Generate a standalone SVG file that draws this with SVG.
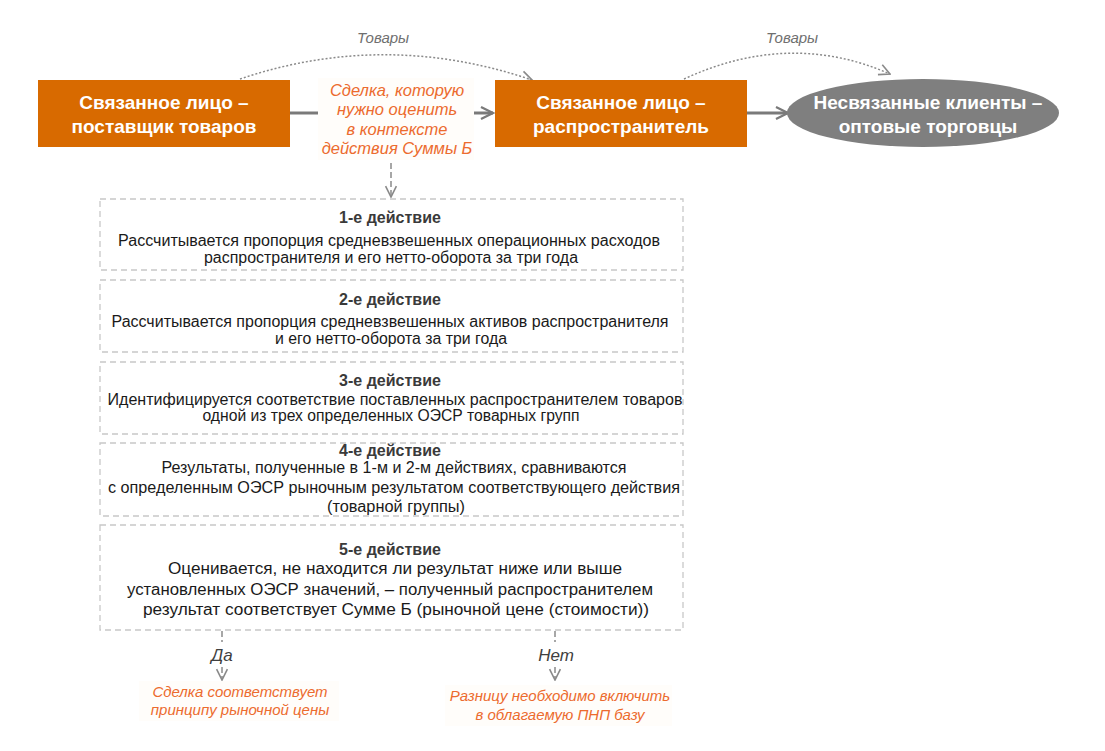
<svg xmlns="http://www.w3.org/2000/svg" width="1105" height="751" viewBox="0 0 1105 751">
<defs>
<style>
.node{fill:#d86a00}
.wt{fill:#fff;font-family:"Liberation Sans",Arial,sans-serif;font-weight:bold;font-size:19px;text-anchor:middle}
.or{fill:#ec6b2e;font-family:"Liberation Sans",Arial,sans-serif;font-style:italic;text-anchor:middle}
.gl{fill:#6f6f6f;font-family:"Liberation Sans",Arial,sans-serif;font-style:italic;font-size:15px;text-anchor:middle}
.yn{fill:#404040;font-family:"Liberation Sans",Arial,sans-serif;font-style:italic;font-size:17px;text-anchor:middle}
.step{fill:#fff;stroke:#c8c8c8;stroke-width:1.3;stroke-dasharray:6 4}
.tt{fill:#3a3a3a;font-family:"Liberation Sans",Arial,sans-serif;font-weight:bold;font-size:16px;text-anchor:middle}
.bt{fill:#1a1a1a;font-family:"Liberation Sans",Arial,sans-serif;font-size:16px;text-anchor:middle}
.solid{fill:none;stroke:#7a7a7a;stroke-width:3}
.dot{fill:none;stroke:#8a8a8a;stroke-width:1.5;stroke-dasharray:2 2}
.dash{fill:none;stroke:#8a8a8a;stroke-width:1.5;stroke-dasharray:6 3}
.bg{fill:#fffdfa}
</style>
<marker id="ah" viewBox="0 0 10 10" refX="9" refY="5" markerWidth="5" markerHeight="5" orient="auto" markerUnits="strokeWidth">
<path d="M1,1 L9,5 L1,9" fill="none" stroke="#7a7a7a" stroke-width="1.5"/>
</marker>
<marker id="ahs" viewBox="0 0 10 10" refX="9" refY="5" markerWidth="9" markerHeight="9" orient="auto" markerUnits="strokeWidth">
<path d="M1,1 L9,5 L1,9" fill="none" stroke="#8a8a8a" stroke-width="1.2"/>
</marker>
</defs>
<rect width="1105" height="751" fill="#fff"/>

<g id="connectors">
<path class="solid" d="M290,113 H322"/>
<path class="solid" d="M465,113 H493" marker-end="url(#ah)"/>
<path class="solid" d="M747,113 H788" marker-end="url(#ah)"/>
<path class="dot" d="M240,79 Q385,30 532,80" marker-end="url(#ahs)"/>
<path class="dot" d="M684,79 Q790,30 890,74" marker-end="url(#ahs)"/>
<path class="dash" d="M391,163 V197" marker-end="url(#ahs)"/>
<path class="dash" d="M222,631 V642"/>
<path class="dash" d="M222,667 V680" marker-end="url(#ahs)"/>
<path class="dash" d="M555,631 V642"/>
<path class="dash" d="M555,667 V680" marker-end="url(#ahs)"/>
</g>

<g id="label-goods-1"><text class="gl" x="383" y="43">Товары</text></g>
<g id="label-goods-2"><text class="gl" x="792" y="43">Товары</text></g>

<g id="supplier">
<rect class="node" x="38" y="80" width="252" height="67"/>
<text class="wt" x="164" y="109">Связанное лицо –</text>
<text class="wt" x="164" y="133">поставщик товаров</text>
</g>

<g id="deal-label">
<rect class="bg" x="318" y="78" width="156" height="82"/>
<text class="or" font-size="16.5" x="397" y="96">Сделка, которую</text>
<text class="or" font-size="16.5" x="397" y="115">нужно оценить</text>
<text class="or" font-size="16.5" x="397" y="135">в контексте</text>
<text class="or" font-size="16.5" x="397" y="154">действия Суммы Б</text>
</g>

<g id="distributor">
<rect class="node" x="495" y="80" width="252" height="67"/>
<text class="wt" x="621" y="109">Связанное лицо –</text>
<text class="wt" x="621" y="133">распространитель</text>
</g>

<g id="clients">
<ellipse cx="923" cy="113" rx="136" ry="34" fill="#7f7f7f"/>
<text class="wt" font-size="19.5" x="928" y="109">Несвязанные клиенты –</text>
<text class="wt" font-size="19.5" x="928" y="133">оптовые торговцы</text>
</g>

<g id="step1">
<rect class="step" x="100" y="199" width="583" height="71"/>
<text class="tt" x="390" y="223">1-е действие</text>
<text class="bt" x="389" y="246" textLength="542" lengthAdjust="spacingAndGlyphs">Рассчитывается пропорция средневзвешенных операционных расходов</text>
<text class="bt" x="391" y="263" textLength="374" lengthAdjust="spacingAndGlyphs">распространителя и его нетто-оборота за три года</text>
</g>

<g id="step2">
<rect class="step" x="100" y="280" width="583" height="72"/>
<text class="tt" x="390" y="305">2-е действие</text>
<text class="bt" x="390" y="327" textLength="557" lengthAdjust="spacingAndGlyphs">Рассчитывается пропорция средневзвешенных активов распространителя</text>
<text class="bt" x="391" y="344" textLength="232" lengthAdjust="spacingAndGlyphs">и его нетто-оборота за три года</text>
</g>

<g id="step3">
<rect class="step" x="100" y="362" width="583" height="72"/>
<text class="tt" x="390" y="386">3-е действие</text>
<text class="bt" x="395" y="405" textLength="575" lengthAdjust="spacingAndGlyphs">Идентифицируется соответствие поставленных распространителем товаров</text>
<text class="bt" x="391" y="421" textLength="377" lengthAdjust="spacingAndGlyphs">одной из трех определенных ОЭСР товарных групп</text>
</g>

<g id="step4">
<rect class="step" x="100" y="443" width="583" height="73"/>
<text class="tt" x="390" y="456">4-е действие</text>
<text class="bt" x="394" y="473" textLength="465" lengthAdjust="spacingAndGlyphs">Результаты, полученные в 1-м и 2-м действиях, сравниваются</text>
<text class="bt" x="394" y="493" textLength="572" lengthAdjust="spacingAndGlyphs">с определенным ОЭСР рыночным результатом соответствующего действия</text>
<text class="bt" x="396" y="512" textLength="138" lengthAdjust="spacingAndGlyphs">(товарной группы)</text>
</g>

<g id="step5">
<rect class="step" x="100" y="525" width="583" height="105"/>
<text class="tt" x="390" y="555">5-е действие</text>
<text class="bt" x="395" y="574" textLength="454" lengthAdjust="spacingAndGlyphs">Оценивается, не находится ли результат ниже или выше</text>
<text class="bt" x="390" y="595" textLength="526" lengthAdjust="spacingAndGlyphs">установленных ОЭСР значений, – полученный распространителем</text>
<text class="bt" x="396" y="615" textLength="506" lengthAdjust="spacingAndGlyphs">результат соответствует Сумме Б (рыночной цене (стоимости))</text>
</g>

<g id="label-yes"><text class="yn" x="222" y="661">Да</text></g>
<g id="label-no"><text class="yn" x="556" y="661">Нет</text></g>

<g id="result-yes">
<rect class="bg" x="139" y="681" width="200" height="40"/>
<text class="or" font-size="15" x="240" y="697">Сделка соответствует</text>
<text class="or" font-size="15" x="240" y="715">принципу рыночной цены</text>
</g>

<g id="result-no">
<rect class="bg" x="445" y="685" width="227" height="41"/>
<text class="or" font-size="15" x="560" y="701">Разницу необходимо включить</text>
<text class="or" font-size="15" x="560" y="720">в облагаемую ПНП базу</text>
</g>
</svg>
